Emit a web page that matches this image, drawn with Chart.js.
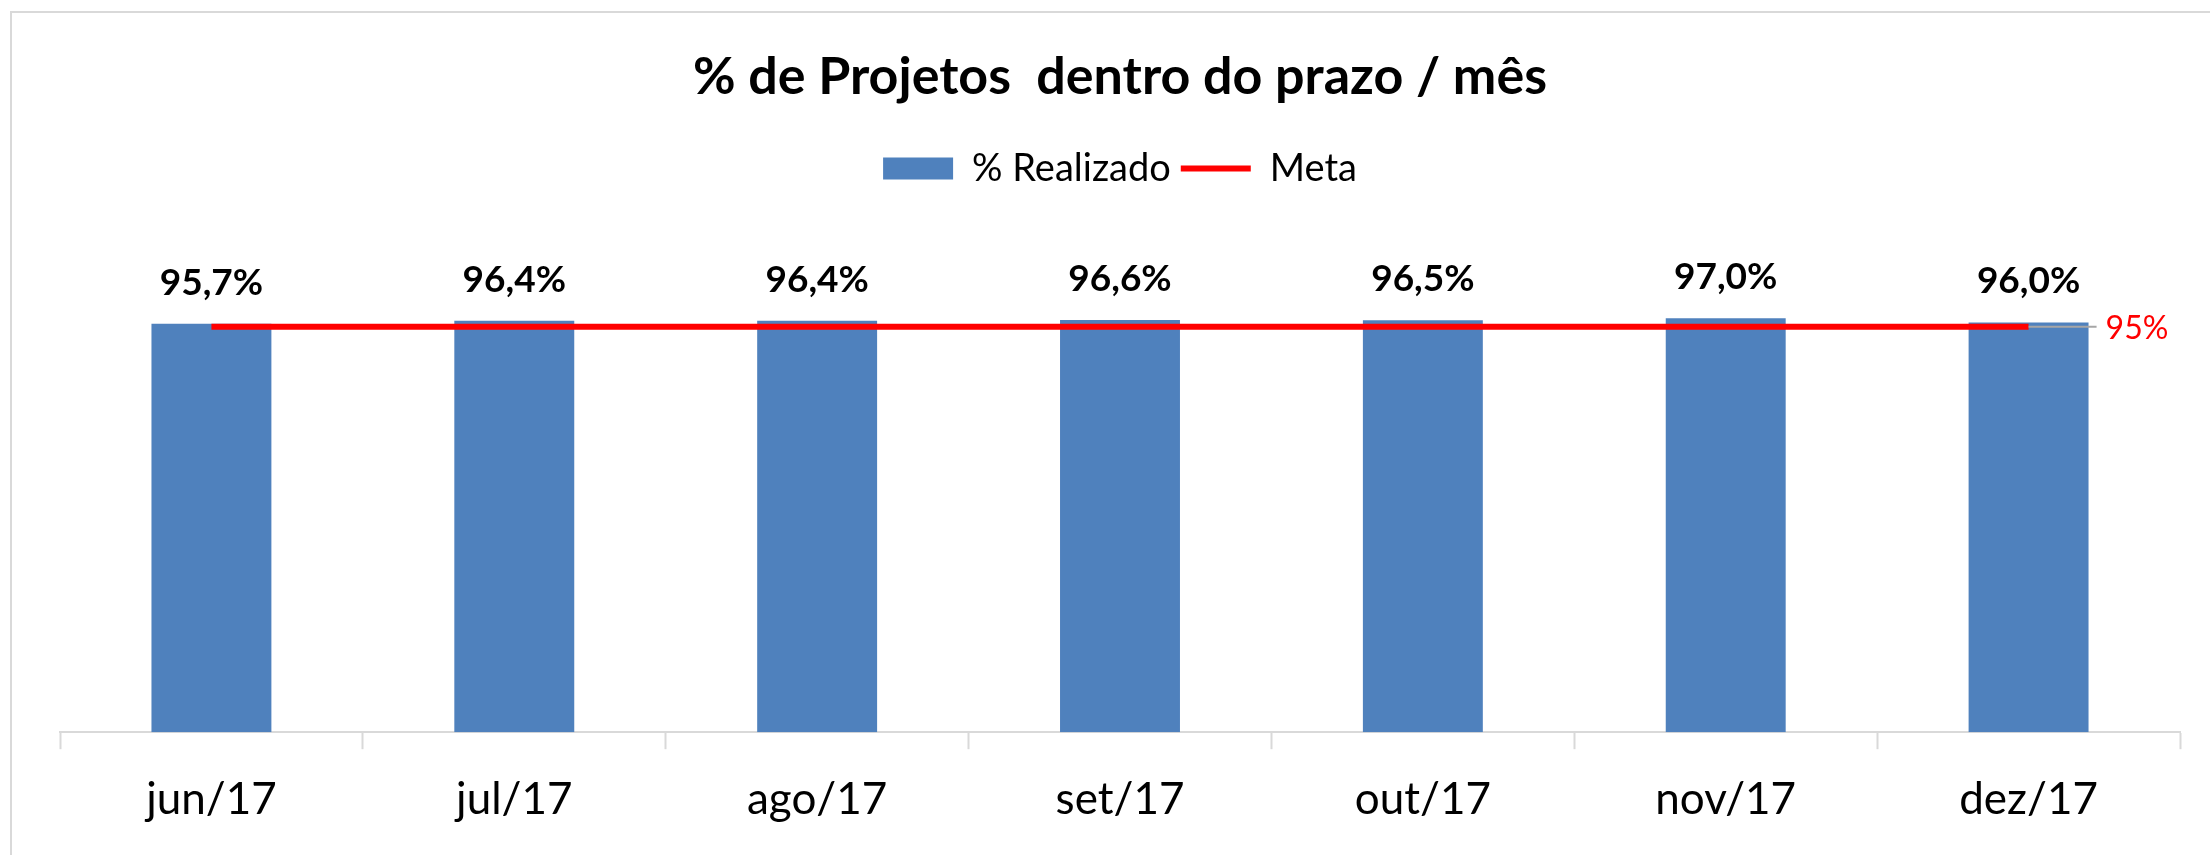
<!DOCTYPE html>
<html>
<head>
<meta charset="utf-8">
<script src="https://cdn.jsdelivr.net/npm/chart.js@4"></script>
<style>
  html, body { margin: 0; padding: 0; background: #ffffff; }
  #wrap { width: 2210px; height: 855px; position: relative; }
</style>
</head>
<body>
<div id="wrap"><canvas id="c" width="2210" height="855"></canvas></div>
<script>
const categories = ['jun/17', 'jul/17', 'ago/17', 'set/17', 'out/17', 'nov/17', 'dez/17'];
const realizado = [95.7, 96.4, 96.4, 96.6, 96.5, 97.0, 96.0];
const meta = [95, 95, 95, 95, 95, 95, 95];
const seriesNames = ['% Realizado', 'Meta'];
const titleText = '% de Projetos  dentro do prazo / mês';

const BLUE = '#4F81BD';
const RED = '#FF0000';
const GRID = '#D9D9D9';
const FONT = 'Lato, "Open Sans", sans-serif';

function fmt(v, digits) {
  return v.toFixed(digits).replace('.', ',') + '%';
}

const framePlugin = {
  id: 'frame',
  beforeDraw(chart) {
    const ctx = chart.ctx;
    ctx.save();
    ctx.fillStyle = '#ffffff';
    ctx.fillRect(0, 0, chart.width, chart.height);
    ctx.strokeStyle = GRID;
    ctx.lineWidth = 2;
    ctx.beginPath();
    ctx.moveTo(11, chart.height);
    ctx.lineTo(11, 12);
    ctx.lineTo(chart.width, 12);
    ctx.stroke();
    ctx.restore();
  }
};

const labelsPlugin = {
  id: 'valueLabels',
  afterDatasetsDraw(chart) {
    const ctx = chart.ctx;
    const barMeta = chart.getDatasetMeta(1);
    ctx.save();
    ctx.font = 'bold 37px ' + FONT;
    ctx.fillStyle = '#000000';
    ctx.textAlign = 'center';
    ctx.textBaseline = 'alphabetic';
    barMeta.data.forEach((bar, i) => {
      ctx.fillText(fmt(realizado[i], 1), bar.x, bar.y - 29);
    });
    // Meta label at the right end
    const lineMeta = chart.getDatasetMeta(0);
    const last = lineMeta.data[lineMeta.data.length - 1];
    ctx.strokeStyle = '#A6A6A6';
    ctx.lineWidth = 2;
    ctx.beginPath();
    ctx.moveTo(last.x, last.y);
    ctx.lineTo(last.x + 68, last.y);
    ctx.stroke();
    ctx.font = '32px ' + FONT;
    ctx.fillStyle = RED;
    ctx.textAlign = 'left';
    ctx.textBaseline = 'middle';
    ctx.fillText(fmt(meta[meta.length - 1], 0), last.x + 77, last.y + 2);
    ctx.restore();
  }
};

new Chart(document.getElementById('c'), {
  data: {
    labels: categories,
    datasets: [
      {
        type: 'line',
        label: seriesNames[1],
        data: meta,
        borderColor: RED,
        backgroundColor: RED,
        borderWidth: 6,
        pointRadius: 0,
        pointHoverRadius: 0,
        tension: 0,
        order: 0
      },
      {
        type: 'bar',
        label: seriesNames[0],
        data: realizado,
        backgroundColor: BLUE,
        borderWidth: 0,
        categoryPercentage: 1.0,
        barPercentage: 0.396,
        order: 1
      }
    ]
  },
  options: {
    responsive: false,
    animation: false,
    events: [],
    layout: { padding: { left: 60, right: 30, top: 0, bottom: 5 } },
    scales: {
      x: {
        offset: true,
        grid: {
          display: true,
          offset: true,
          drawOnChartArea: false,
          drawTicks: true,
          tickLength: 17,
          tickWidth: 2,
          color: GRID
        },
        border: { display: true, color: GRID, width: 2 },
        ticks: {
          color: '#000000',
          font: { family: FONT, size: 44 },
          padding: 24,
          maxRotation: 0,
          autoSkip: false
        }
      },
      y: {
        display: false,
        min: 0,
        max: 125.3
      }
    },
    plugins: {
      title: {
        display: true,
        text: titleText,
        color: '#000000',
        font: { family: FONT, size: 52, weight: 'bold' },
        padding: { top: 46, bottom: 31 }
      },
      legend: {
        display: true,
        position: 'top',
        labels: {
          color: '#000000',
          font: { family: FONT, size: 38 },
          usePointStyle: true,
          pointStyleWidth: 70,
          boxHeight: 22,
          padding: 10,
          generateLabels: () => [
            { text: seriesNames[0], fillStyle: BLUE, strokeStyle: BLUE, lineWidth: 0, pointStyle: 'rect', datasetIndex: 1, hidden: false, fontColor: '#000000' },
            { text: seriesNames[1], fillStyle: RED, strokeStyle: RED, lineWidth: 6, pointStyle: 'line', datasetIndex: 0, hidden: false, fontColor: '#000000' }
          ]
        }
      },
      tooltip: { enabled: false }
    }
  },
  plugins: [framePlugin, labelsPlugin]
});
</script>
</body>
</html>
